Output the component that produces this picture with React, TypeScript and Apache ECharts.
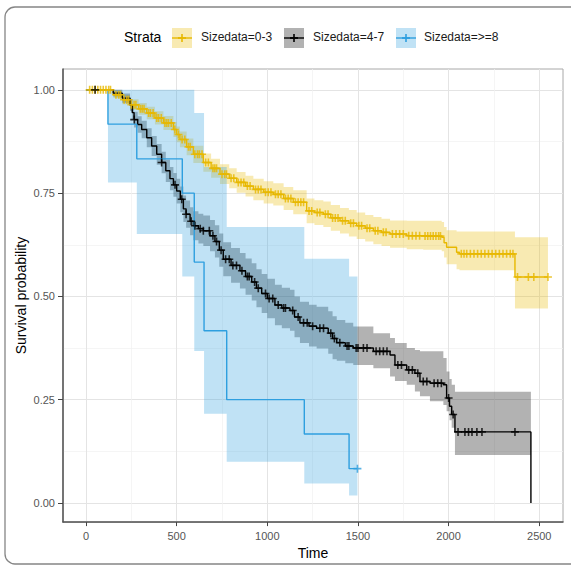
import React, { useEffect, useRef } from "react";
import * as echarts from "echarts";

// ---------- axis ticks ----------
const xTicks = [0, 500, 1000, 1500, 2000, 2500];
const xMinor = [250, 750, 1250, 1750, 2250];
const yTicks = [0, 0.25, 0.5, 0.75, 1];
const yMinor = [0.125, 0.375, 0.625, 0.875];

// ---------- strata ----------
const strataNames = ["Sizedata=0-3", "Sizedata=4-7", "Sizedata=>=8"];
const lineColors = ["#E7B800", "#000000", "#2E9FDF"];
const bandColors = ["rgba(231,184,0,0.3)", "rgba(0,0,0,0.3)", "rgba(46,159,223,0.3)"];

// Sizedata=0-3
const t03 = [0, 142, 151, 200, 243, 290, 335, 380, 427, 482, 500, 518, 555, 592, 647, 690, 739, 790, 831, 880, 923, 980, 1033, 1090, 1143, 1217, 1260, 1309, 1350, 1401, 1450, 1493, 1540, 1585, 1630, 1677, 1769, 1860, 1962, 1975, 1989, 2044, 2060, 2366, 2548];
const s03 = [1, 1, 0.988, 0.976, 0.964, 0.954, 0.944, 0.932, 0.92, 0.904, 0.892, 0.88, 0.862, 0.844, 0.824, 0.81, 0.796, 0.786, 0.776, 0.767, 0.759, 0.752, 0.747, 0.737, 0.728, 0.707, 0.703, 0.699, 0.69, 0.683, 0.677, 0.671, 0.665, 0.659, 0.655, 0.651, 0.647, 0.646, 0.643, 0.63, 0.619, 0.607, 0.603, 0.547, 0.547];
const u03 = [1, 1, 0.996, 0.987, 0.977, 0.968, 0.959, 0.948, 0.937, 0.922, 0.911, 0.899, 0.882, 0.865, 0.846, 0.833, 0.82, 0.81, 0.801, 0.792, 0.785, 0.779, 0.774, 0.765, 0.757, 0.737, 0.733, 0.73, 0.721, 0.714, 0.709, 0.703, 0.697, 0.692, 0.688, 0.684, 0.683, 0.683, 0.68, 0.668, 0.66, 0.657, 0.657, 0.643, 0.643];
const l03 = [1, 1, 0.98, 0.965, 0.951, 0.94, 0.929, 0.916, 0.903, 0.886, 0.873, 0.861, 0.842, 0.823, 0.802, 0.787, 0.772, 0.762, 0.751, 0.742, 0.733, 0.725, 0.72, 0.709, 0.699, 0.677, 0.673, 0.668, 0.659, 0.652, 0.645, 0.639, 0.633, 0.626, 0.622, 0.618, 0.614, 0.613, 0.609, 0.594, 0.578, 0.566, 0.563, 0.471, 0.471];
const c03 = [20, 35, 50, 65, 80, 95, 110, 125, 135, 165, 180, 190, 210, 225, 235, 250, 265, 275, 300, 310, 320, 345, 355, 370, 390, 400, 415, 435, 445, 455, 470, 490, 510, 530, 545, 565, 575, 600, 615, 625, 640, 660, 675, 700, 710, 720, 750, 765, 775, 800, 815, 840, 855, 870, 890, 905, 935, 950, 965, 990, 1005, 1020, 1045, 1060, 1075, 1100, 1115, 1130, 1155, 1170, 1185, 1200, 1230, 1245, 1275, 1290, 1320, 1335, 1360, 1375, 1390, 1415, 1430, 1460, 1475, 1505, 1520, 1550, 1565, 1595, 1610, 1640, 1655, 1690, 1710, 1730, 1750, 1780, 1800, 1820, 1840, 1870, 1885, 1900, 1915, 1930, 1945, 1955, 2070, 2085, 2100, 2120, 2140, 2160, 2180, 2200, 2220, 2240, 2260, 2280, 2300, 2320, 2340, 2355, 2380, 2440, 2470, 2548];

// Sizedata=4-7
const t47 = [0, 100, 150, 200, 243, 255, 265, 285, 307, 335, 362, 390, 417, 440, 463, 482, 500, 520, 537, 552, 574, 592, 620, 647, 684, 711, 735, 757, 800, 849, 880, 914, 940, 969, 1000, 1042, 1080, 1125, 1150, 1180, 1230, 1272, 1336, 1360, 1383, 1430, 1474, 1585, 1677, 1704, 1769, 1814, 1842, 1897, 1971, 1989, 2005, 2017, 2035, 2454];
const s47 = [1, 1, 0.992, 0.98, 0.963, 0.945, 0.928, 0.916, 0.904, 0.884, 0.864, 0.844, 0.824, 0.804, 0.785, 0.77, 0.755, 0.735, 0.712, 0.699, 0.682, 0.671, 0.664, 0.659, 0.647, 0.633, 0.612, 0.59, 0.575, 0.562, 0.548, 0.535, 0.52, 0.507, 0.495, 0.479, 0.472, 0.466, 0.45, 0.436, 0.428, 0.423, 0.411, 0.398, 0.388, 0.38, 0.375, 0.367, 0.358, 0.334, 0.322, 0.314, 0.294, 0.29, 0.286, 0.254, 0.234, 0.214, 0.172, 0];
const u47 = [1, 1, 1, 0.991, 0.977, 0.962, 0.947, 0.936, 0.925, 0.907, 0.888, 0.869, 0.85, 0.831, 0.813, 0.799, 0.785, 0.766, 0.744, 0.732, 0.716, 0.706, 0.7, 0.696, 0.685, 0.672, 0.652, 0.631, 0.617, 0.605, 0.592, 0.58, 0.566, 0.554, 0.543, 0.528, 0.521, 0.516, 0.5, 0.487, 0.48, 0.475, 0.464, 0.452, 0.443, 0.436, 0.427, 0.411, 0.399, 0.387, 0.375, 0.37, 0.367, 0.367, 0.351, 0.318, 0.3, 0.286, 0.269, 0.269];
const l47 = [1, 1, 0.984, 0.969, 0.949, 0.928, 0.909, 0.896, 0.883, 0.861, 0.84, 0.819, 0.798, 0.777, 0.757, 0.741, 0.725, 0.704, 0.68, 0.666, 0.648, 0.636, 0.628, 0.622, 0.609, 0.594, 0.572, 0.549, 0.533, 0.519, 0.504, 0.49, 0.474, 0.46, 0.447, 0.43, 0.423, 0.417, 0.401, 0.387, 0.379, 0.374, 0.361, 0.348, 0.344, 0.338, 0.334, 0.326, 0.306, 0.295, 0.286, 0.27, 0.258, 0.246, 0.237, 0.222, 0.2, 0.182, 0.116, 0.116];
const c47 = [50, 266, 417, 491, 528, 552, 580, 601, 630, 647, 680, 700, 720, 745, 770, 790, 810, 830, 860, 890, 900, 930, 950, 990, 1010, 1030, 1060, 1090, 1100, 1140, 1170, 1200, 1220, 1250, 1290, 1310, 1350, 1370, 1400, 1440, 1450, 1490, 1500, 1530, 1550, 1600, 1620, 1640, 1660, 1720, 1740, 1780, 1800, 1830, 1860, 1880, 1920, 1940, 1960, 2000, 2025, 2052, 2090, 2110, 2129, 2156, 2184, 2366];

// Sizedata=>=8
const t8 = [0, 121, 280, 531, 597, 651, 776, 1204, 1451, 1497];
const s8 = [1, 0.917, 0.833, 0.75, 0.583, 0.417, 0.25, 0.167, 0.083, 0.083];
const u8 = [1, 1, 1, 1, 0.944, 0.813, 0.668, 0.591, 0.548, 0.548];
const l8 = [1, 0.776, 0.651, 0.548, 0.368, 0.216, 0.1, 0.047, 0.018, 0.018];
const c8 = [1497];

const FONT = "'Liberation Sans', Arial, Helvetica, sans-serif";
const PLUS = "path://M4,0H6V4H10V6H6V10H4V6H0V4H4Z";

function survAt(t: number[], s: number[], x: number) {
  let v = s[0];
  for (let i = 0; i < t.length; i++) if (t[i] <= x) v = s[i];
  return v;
}

function bandSeries(t: number[], u: number[], l: number[], color: string) {
  const rows = t.map((tt, i) => [tt, u[i], l[i]]);
  return {
    type: "custom",
    z: 1,
    silent: true,
    data: rows,
    encode: { x: 0, y: [1, 2] },
    renderItem: (params: any, api: any) => {
      if (params.dataIndex !== 0) return null;
      const top: number[][] = [];
      const bot: number[][] = [];
      for (let i = 0; i < rows.length - 1; i++) {
        const a = rows[i];
        const b = rows[i + 1];
        top.push(api.coord([a[0], a[1]]), api.coord([b[0], a[1]]));
        bot.push(api.coord([a[0], a[2]]), api.coord([b[0], a[2]]));
      }
      const points = top.concat(bot.reverse());
      return { type: "polygon", shape: { points }, style: { fill: color } };
    },
  };
}

function lineSeries(t: number[], s: number[], color: string, name: string) {
  return {
    type: "line",
    name,
    step: "end",
    z: 2,
    silent: true,
    symbol: "none",
    data: t.map((tt, i) => [tt, s[i]]),
    lineStyle: { color, width: 1.4 },
  };
}

function censorSeries(c: number[], t: number[], s: number[], color: string) {
  return {
    type: "scatter",
    z: 3,
    silent: true,
    symbol: PLUS,
    symbolSize: 8,
    data: c.map((x) => [x, survAt(t, s, x)]),
    itemStyle: { color },
  };
}

const legendKeyX = [172, 284, 396];
const legendTextX = [201, 313, 424];

export default function App() {
  const ref = useRef<HTMLDivElement>(null);
  useEffect(() => {
    if (!ref.current) return;
    const chart = echarts.init(ref.current, null, { renderer: "svg" });
    const xMin = -127;
    const xMax = 2631;
    const yMin = -0.0464;
    const yMax = 1.0505;

    const legendGraphics: any[] = [
      {
        type: "text",
        left: 124,
        top: 30,
        style: { text: "Strata", fontSize: 14, fontFamily: FONT, fill: "#000" },
      },
    ];
    strataNames.forEach((name, i) => {
      const kx = legendKeyX[i];
      legendGraphics.push(
        { type: "rect", shape: { x: kx, y: 28, width: 20, height: 20 }, style: { fill: bandColors[i] } },
        { type: "line", shape: { x1: kx, y1: 38, x2: kx + 20, y2: 38 }, style: { stroke: lineColors[i], lineWidth: 1.4 } },
        { type: "line", shape: { x1: kx + 10, y1: 34, x2: kx + 10, y2: 42 }, style: { stroke: lineColors[i], lineWidth: 1.6 } },
        { type: "line", shape: { x1: kx + 6, y1: 38, x2: kx + 14, y2: 38 }, style: { stroke: lineColors[i], lineWidth: 1.8 } },
        {
          type: "text",
          left: legendTextX[i],
          top: 31,
          style: { text: name, fontSize: 12, fontFamily: FONT, fill: "#1a1a1a" },
        }
      );
    });

    const frameStyle = { stroke: "#858585", lineWidth: 1.3, fill: "none" };
    const frame: any[] = [
      { type: "line", shape: { x1: 15, y1: 7, x2: 575, y2: 7 }, style: frameStyle, silent: true },
      { type: "line", shape: { x1: 5, y1: 17, x2: 5, y2: 554 }, style: frameStyle, silent: true },
      { type: "line", shape: { x1: 15, y1: 564, x2: 575, y2: 564 }, style: frameStyle, silent: true },
      {
        type: "arc",
        shape: { cx: 15, cy: 17, r: 10, startAngle: Math.PI, endAngle: Math.PI * 1.5 },
        style: frameStyle,
        silent: true,
      },
      {
        type: "arc",
        shape: { cx: 15, cy: 554, r: 10, startAngle: Math.PI * 0.5, endAngle: Math.PI },
        style: frameStyle,
        silent: true,
      },
    ];

    chart.setOption({
      animation: false,
      backgroundColor: "#ffffff",
      grid: {
        left: 63,
        top: 69,
        width: 500,
        height: 456,
        show: true,
        borderColor: "#a8a8a8",
        borderWidth: 1,
        backgroundColor: "#ffffff",
      },
      xAxis: [
        {
          type: "value",
          min: xMin,
          max: xMax,
          name: "Time",
          nameLocation: "middle",
          nameGap: 22,
          nameTextStyle: { fontSize: 14, color: "#000", fontFamily: FONT },
          axisLine: { show: true, onZero: false, lineStyle: { color: "#555", width: 1.5 } },
          axisTick: { show: true, length: 4, customValues: xTicks, lineStyle: { color: "#444" } },
          axisLabel: {
            customValues: xTicks,
            formatter: (v: number) => String(v),
            fontSize: 11,
            color: "#555",
            margin: 8,
            fontFamily: FONT,
          },
          splitLine: { show: true, lineStyle: { color: "#e4e4e4", width: 1 } },
        },
        {
          type: "value",
          min: xMin,
          max: xMax,
          position: "top",
          axisLine: { show: false },
          axisTick: { show: false, customValues: xMinor },
          axisLabel: { show: false, customValues: xMinor },
          splitLine: { show: true, lineStyle: { color: "#f1f1f1", width: 0.7 } },
        },
      ],
      yAxis: [
        {
          type: "value",
          min: yMin,
          max: yMax,
          name: "Survival probability",
          nameLocation: "middle",
          nameRotate: 90,
          nameGap: 35,
          nameMoveOverlap: false,
          nameTextStyle: { fontSize: 14, color: "#000", fontFamily: FONT },
          axisLine: { show: true, onZero: false, lineStyle: { color: "#555", width: 1.5 } },
          axisTick: { show: true, length: 5, customValues: yTicks, lineStyle: { color: "#444" } },
          axisLabel: {
            customValues: yTicks,
            formatter: (v: number) => v.toFixed(2),
            fontSize: 11,
            color: "#555",
            margin: 8,
            fontFamily: FONT,
          },
          splitLine: { show: true, lineStyle: { color: "#e4e4e4", width: 1 } },
        },
        {
          type: "value",
          min: yMin,
          max: yMax,
          position: "right",
          axisLine: { show: false },
          axisTick: { show: false, customValues: yMinor },
          axisLabel: { show: false, customValues: yMinor },
          splitLine: { show: true, lineStyle: { color: "#f1f1f1", width: 0.7 } },
        },
      ],
      graphic: [...frame, ...legendGraphics],
      series: [
        bandSeries(t03, u03, l03, bandColors[0]),
        bandSeries(t47, u47, l47, bandColors[1]),
        bandSeries(t8, u8, l8, bandColors[2]),
        lineSeries(t03, s03, lineColors[0], strataNames[0]),
        lineSeries(t47, s47, lineColors[1], strataNames[1]),
        lineSeries(t8, s8, lineColors[2], strataNames[2]),
        censorSeries(c03, t03, s03, lineColors[0]),
        censorSeries(c47, t47, s47, lineColors[1]),
        censorSeries(c8, t8, s8, lineColors[2]),
      ],
    });
    return () => chart.dispose();
  }, []);
  return (
    <div
      ref={ref}
      style={{ position: "absolute", left: 0, top: 0, width: 571, height: 565, background: "#fff" }}
    />
  );
}
